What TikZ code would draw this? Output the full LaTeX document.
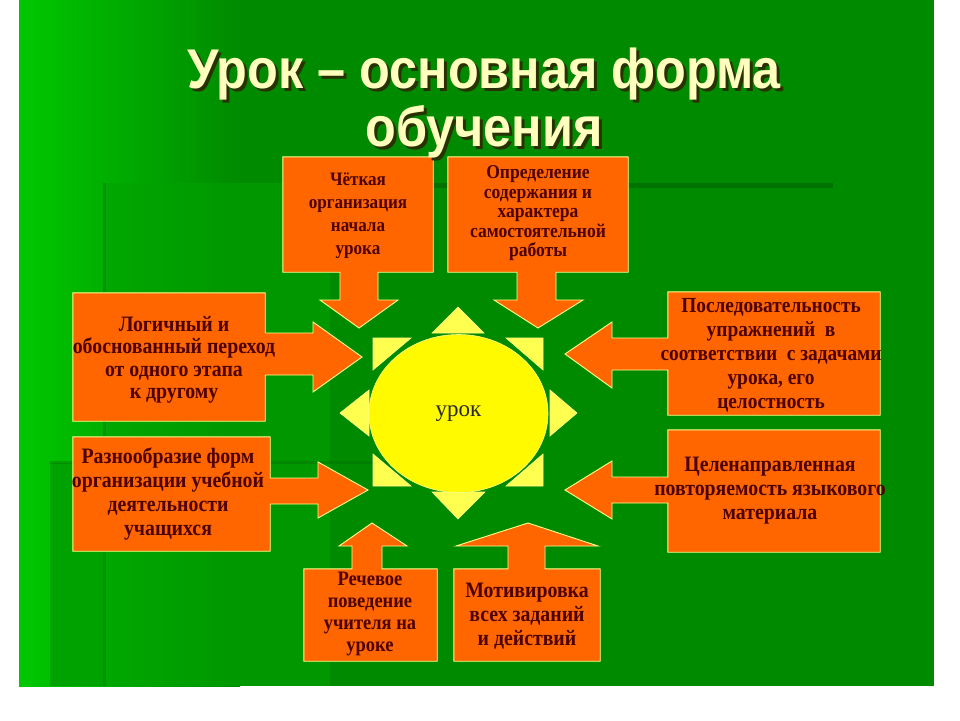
\documentclass[tikz,border=0pt]{standalone}
\usepackage{fontspec}
\setmainfont{Liberation Serif}
\newfontfamily\boxfont[FakeStretch=0.9]{Liberation Serif}
\newfontfamily\titlefont[FakeStretch=0.9]{Liberation Sans}
\usetikzlibrary{shapes.geometric}
\pgfdeclarelayer{bg}
\pgfdeclarelayer{shp}
\pgfsetlayers{bg,shp,main}
\definecolor{slide}{RGB}{0,138,0}
\definecolor{slidelight}{RGB}{0,200,0}
\definecolor{slidemid}{RGB}{0,162,0}
\definecolor{slidedark}{RGB}{0,105,0}
\definecolor{orng}{RGB}{255,102,0}
\definecolor{bord}{RGB}{255,255,140}
\definecolor{txt}{RGB}{77,0,0}
\definecolor{sunc}{RGB}{255,250,0}
\definecolor{rayc}{RGB}{255,255,80}
\definecolor{titlec}{RGB}{255,255,190}
\definecolor{shadowc}{RGB}{40,50,0}
\newcommand{\shadowtext}[1]{\makebox[0pt][l]{\hspace{3pt}\raisebox{-3pt}{\textcolor{shadowc}{#1}}}#1}
\tikzset{
  boxr/.style={draw=none, fill=none, inner sep=0pt},
  bx/.style={draw=none, fill=none, inner sep=0pt, align=center, text=txt},
  co/.style={fill=orng, draw=bord, line width=0.9pt, line join=miter},
  ray/.style={fill=rayc, draw=bord, line width=0.6pt},
  ttl/.style={inner sep=0pt, anchor=base, text=titlec, font=\titlefont\bfseries\fontsize{56}{56}\selectfont},
}
\begin{document}
\begin{tikzpicture}[x=1pt,y=-1pt]
\useasboundingbox (0,0) rectangle (960,720);
\begin{pgfonlayer}{bg}
  \fill[white] (0,0) rectangle (960,720);
  \begin{scope}
  \clip (19,0) rectangle (934,686);
  \fill[slide] (19,0) rectangle (934,686);
  \shade[left color=slidelight!85!slide, right color=slide] (50,0) rectangle (240,686);
  \fill[slidemid, opacity=0.55] (103,183) rectangle (330,686);
  \fill[slidemid] (50,463) rectangle (103,686);
  \shade[left color=slidelight, right color=slidelight!85!slide] (19,0) rectangle (50,686);
  \fill[slidedark, opacity=0.7] (430,183) rectangle (833,188);
  \fill[slidedark, opacity=0.35] (103,183) rectangle (106,686);
  \fill[slidedark, opacity=0.35] (50,461) rectangle (420,464);
  \end{scope}
\end{pgfonlayer}

% title
\node[ttl] (t1) at (484,88) {\shadowtext{Урок – основная форма}};
\node[ttl] (t2) at (484,146) {\shadowtext{обучения}};

% box frames
\node[boxr, minimum width=150, minimum height=115] (A) at (358,214.5) {};
\node[boxr, minimum width=180, minimum height=115] (B) at (538,214.5) {};
\node[boxr, minimum width=192, minimum height=128] (C) at (169,357) {};
\node[boxr, minimum width=212, minimum height=123] (D) at (774,353.5) {};
\node[boxr, minimum width=197, minimum height=114] (E) at (171.5,494) {};
\node[boxr, minimum width=212, minimum height=122] (F) at (774,491) {};
\node[boxr, minimum width=133, minimum height=92] (G) at (370.5,615) {};
\node[boxr, minimum width=146, minimum height=92] (H) at (527,615) {};

% box texts
\node[bx, font=\boxfont\bfseries\fontsize{19}{23}\selectfont] (At) at (358,215.5) {Чёткая\\организация\\начала\\урока};
\node[bx, font=\boxfont\bfseries\fontsize{19.5}{19.5}\selectfont] (Bt) at (538,213.5) {Определение\\содержания и\\характера\\самостоятельной\\работы};
\node[bx, font=\boxfont\bfseries\fontsize{22}{22.5}\selectfont] (Ct) at (174,360) {Логичный и\\обоснованный переход\\от одного этапа\\к другому};
\node[bx, font=\boxfont\bfseries\fontsize{21.5}{24}\selectfont] (Dt) at (771,355) {Последовательность\\упражнений\ \ в\\соответствии\ \ с задачами\\урока, его\\целостность};
\node[bx, font=\boxfont\bfseries\fontsize{22}{24}\selectfont] (Et) at (168,494) {Разнообразие форм\\организации учебной\\деятельности\\учащихся};
\node[bx, font=\boxfont\bfseries\fontsize{22}{24}\selectfont] (Ft) at (770,491) {Целенаправленная\\повторяемость языкового\\материала};
\node[bx, font=\boxfont\bfseries\fontsize{20.5}{22}\selectfont] (Gt) at (370,614) {Речевое\\поведение\\учителя на\\уроке};
\node[bx, font=\boxfont\bfseries\fontsize{22}{24}\selectfont] (Ht) at (527,616) {Мотивировка\\всех заданий\\и действий};

% sun
\node[ellipse, minimum width=179, minimum height=158, inner sep=0pt, fill=sunc, draw=bord, line width=0.6pt,
      text={rgb,255:red,40;green,40;blue,40}, font=\fontsize{23}{23}\selectfont] (sun) at (458.5,413.5) {урок};

\begin{pgfonlayer}{shp}
  % callouts
  \draw[co] (A.north west) -- (A.north east) -- (A.south east) -- (378,0 |- A.south) -- (378,300) -- (398,300)
    -- (359,328) -- (320,300) -- (340,300) -- (340,0 |- A.south) -- (A.south west) -- cycle;
  \draw[co] (B.north west) -- (B.north east) -- (B.south east) -- (556,0 |- B.south) -- (556,300) -- (583,300)
    -- (538,328) -- (494,300) -- (517,300) -- (517,0 |- B.south) -- (B.south west) -- cycle;
  \draw[co] (C.north west) -- (C.north east) -- (C.east |- 0,333) -- (313,333) -- (313,322) -- (362,357)
    -- (313,392) -- (313,375) -- (C.east |- 0,375) -- (C.south east) -- (C.south west) -- cycle;
  \draw[co] (D.north east) -- (D.south east) -- (D.south west) -- (D.west |- 0,370) -- (612,370) -- (612,388)
    -- (565,354) -- (612,322) -- (612,338) -- (D.west |- 0,338) -- (D.north west) -- cycle;
  \draw[co] (E.north west) -- (E.north east) -- (E.east |- 0,478) -- (318,478) -- (318,462) -- (368,490)
    -- (318,518) -- (318,504) -- (E.east |- 0,504) -- (E.south east) -- (E.south west) -- cycle;
  \draw[co] (F.north east) -- (F.south east) -- (F.south west) -- (F.west |- 0,503) -- (612,503) -- (612,519)
    -- (565,490) -- (612,461) -- (612,477) -- (F.west |- 0,477) -- (F.north west) -- cycle;
  \draw[co] (G.south west) -- (G.south east) -- (G.north east) -- (382,0 |- G.north) -- (382,546) -- (407,546)
    -- (372,523) -- (339,546) -- (352,546) -- (352,0 |- G.north) -- (G.north west) -- cycle;
  \draw[co] (H.south west) -- (H.south east) -- (H.north east) -- (545,0 |- H.north) -- (545,546) -- (598,546)
    -- (528,523) -- (456,546) -- (508,546) -- (508,0 |- H.north) -- (H.north west) -- cycle;
  % sun rays
  \draw[ray] (432,333) -- (484,333) -- (458,307) -- cycle;
  \draw[ray] (432,492) -- (485,492) -- (458,519) -- cycle;
  \draw[ray] (369,390) -- (369,436) -- (340,413) -- cycle;
  \draw[ray] (550,390) -- (550,436) -- (577,413) -- cycle;
  \draw[ray] (373,338) -- (411,338) -- (373,370) -- cycle;
  \draw[ray] (543,338) -- (506,338) -- (543,370) -- cycle;
  \draw[ray] (373,486) -- (373,454) -- (411,486) -- cycle;
  \draw[ray] (543,486) -- (543,454) -- (506,486) -- cycle;
\end{pgfonlayer}
\end{tikzpicture}
\end{document}
